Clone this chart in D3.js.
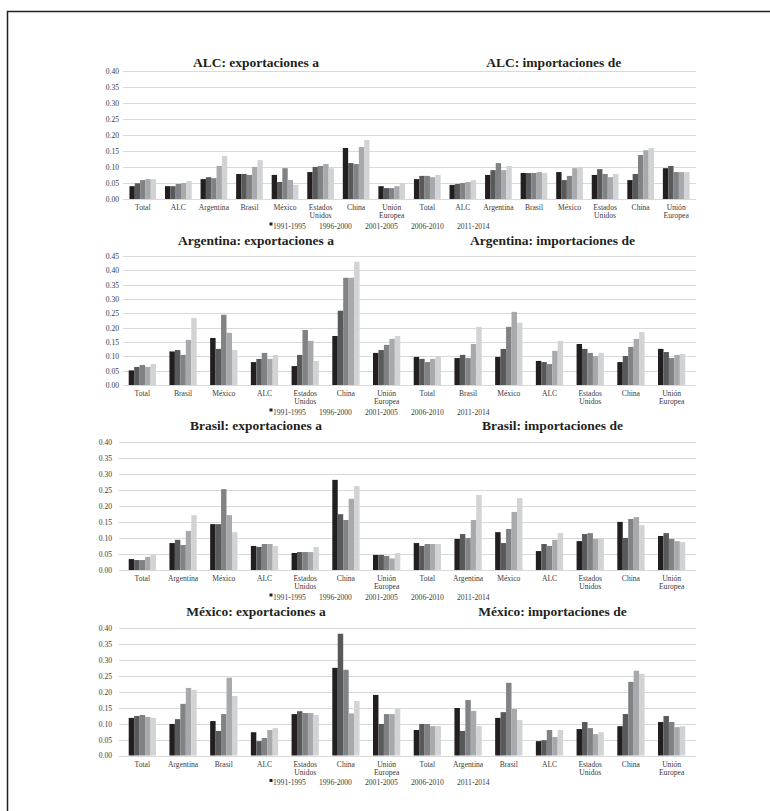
<!DOCTYPE html>
<html>
<head>
<meta charset="utf-8">
<script src="https://cdn.jsdelivr.net/npm/d3@7"></script>
<style>
  body { margin: 0; background: #fff; }
  text { font-family: "Liberation Serif", "Times New Roman", serif; }
</style>
</head>
<body>
<script>
// periods (series) and the destinations / origins of each panel
var periods = ["1991-1995", "1996-2000", "2001-2005", "2006-2010", "2011-2014"];
var colors  = ["#231f20", "#58595b", "#808285", "#a7a9ac", "#d1d3d4"];

var alcCats = ["Total", "ALC", "Argentina", "Brasil", "México", "Estados Unidos", "China", "Unión Europea"];
var argCats = ["Total", "Brasil", "México", "ALC", "Estados Unidos", "China", "Unión Europea"];
var braCats = ["Total", "Argentina", "México", "ALC", "Estados Unidos", "China", "Unión Europea"];
var mexCats = ["Total", "Argentina", "Brasil", "ALC", "Estados Unidos", "China", "Unión Europea"];

var ticks040 = [0, 0.05, 0.10, 0.15, 0.20, 0.25, 0.30, 0.35, 0.40];
var ticks045 = [0, 0.05, 0.10, 0.15, 0.20, 0.25, 0.30, 0.35, 0.40, 0.45];

// one row per category, one value per period
var alcExports = [
  [0.040, 0.049, 0.059, 0.062, 0.062],
  [0.040, 0.040, 0.047, 0.050, 0.056],
  [0.062, 0.068, 0.065, 0.103, 0.134],
  [0.078, 0.078, 0.075, 0.100, 0.121],
  [0.075, 0.053, 0.096, 0.059, 0.044],
  [0.084, 0.100, 0.103, 0.109, 0.096],
  [0.159, 0.112, 0.109, 0.162, 0.184],
  [0.040, 0.034, 0.034, 0.040, 0.050]
];
var alcImports = [
  [0.062, 0.072, 0.072, 0.068, 0.075],
  [0.044, 0.047, 0.050, 0.053, 0.059],
  [0.075, 0.090, 0.112, 0.090, 0.103],
  [0.081, 0.081, 0.081, 0.084, 0.081],
  [0.084, 0.059, 0.072, 0.096, 0.100],
  [0.075, 0.093, 0.078, 0.068, 0.078],
  [0.059, 0.078, 0.137, 0.152, 0.159],
  [0.096, 0.103, 0.084, 0.084, 0.084]
];
var argExports = [
  [0.051, 0.063, 0.070, 0.063, 0.073],
  [0.117, 0.122, 0.105, 0.157, 0.234],
  [0.164, 0.126, 0.245, 0.182, 0.122],
  [0.080, 0.091, 0.112, 0.091, 0.105],
  [0.066, 0.105, 0.192, 0.154, 0.084],
  [0.171, 0.259, 0.374, 0.374, 0.430],
  [0.112, 0.122, 0.140, 0.161, 0.171]
];
var argImports = [
  [0.098, 0.091, 0.080, 0.091, 0.101],
  [0.094, 0.105, 0.094, 0.143, 0.203],
  [0.098, 0.126, 0.203, 0.255, 0.217],
  [0.084, 0.080, 0.073, 0.119, 0.154],
  [0.143, 0.126, 0.112, 0.101, 0.112],
  [0.080, 0.101, 0.133, 0.161, 0.185],
  [0.126, 0.115, 0.094, 0.105, 0.108]
];
var braExports = [
  [0.034, 0.031, 0.031, 0.041, 0.047],
  [0.084, 0.094, 0.078, 0.122, 0.171],
  [0.143, 0.143, 0.252, 0.171, 0.118],
  [0.075, 0.072, 0.081, 0.081, 0.075],
  [0.053, 0.056, 0.056, 0.056, 0.072],
  [0.281, 0.174, 0.156, 0.222, 0.262],
  [0.047, 0.047, 0.044, 0.036, 0.053]
];
var braImports = [
  [0.084, 0.075, 0.081, 0.081, 0.081],
  [0.097, 0.112, 0.100, 0.156, 0.234],
  [0.118, 0.084, 0.128, 0.181, 0.224],
  [0.059, 0.081, 0.075, 0.094, 0.115],
  [0.090, 0.112, 0.115, 0.097, 0.100],
  [0.150, 0.100, 0.159, 0.165, 0.140],
  [0.106, 0.115, 0.097, 0.090, 0.087]
];
var mexExports = [
  [0.118, 0.124, 0.127, 0.121, 0.118],
  [0.099, 0.114, 0.162, 0.212, 0.206],
  [0.108, 0.077, 0.130, 0.244, 0.187],
  [0.073, 0.045, 0.055, 0.080, 0.086],
  [0.130, 0.139, 0.133, 0.133, 0.127],
  [0.275, 0.382, 0.269, 0.132, 0.171],
  [0.190, 0.099, 0.130, 0.130, 0.146]
];
var mexImports = [
  [0.080, 0.099, 0.099, 0.092, 0.092],
  [0.149, 0.077, 0.174, 0.140, 0.092],
  [0.118, 0.136, 0.228, 0.146, 0.111],
  [0.045, 0.048, 0.080, 0.058, 0.080],
  [0.083, 0.105, 0.086, 0.067, 0.073],
  [0.092, 0.130, 0.231, 0.266, 0.256],
  [0.105, 0.124, 0.105, 0.089, 0.092]
];

var width = 770, height = 811;

var svg = d3.select("body").append("svg")
    .attr("width", width)
    .attr("height", height);

// frame, runs off the right and bottom of the page like the scan
svg.append("rect")
    .attr("x", 7.5).attr("y", 11.5)
    .attr("width", 800).attr("height", 820)
    .attr("fill", "none")
    .attr("stroke", "#231f20")
    .attr("stroke-width", 1.5);

var panels = [
  {name: "ALC", cats: alcCats, exp: alcExports, imp: alcImports, ticks: ticks040,
   top: 70.7, base: 199, titleY: 62, gridX: 123, pad: 4, range: [125, 694], inner: 0.25},
  {name: "Argentina", cats: argCats, exp: argExports, imp: argImports, ticks: ticks045,
   top: 256, base: 385, titleY: 240, gridX: 123, pad: 4, range: [122, 692], inner: 0.33},
  {name: "Brasil", cats: braCats, exp: braExports, imp: braImports, ticks: ticks040,
   top: 441.7, base: 570, titleY: 425, gridX: 119, pad: 7, range: [122, 692], inner: 0.33},
  {name: "México", cats: mexCats, exp: mexExports, imp: mexImports, ticks: ticks040,
   top: 628, base: 755.5, titleY: 611, gridX: 119, pad: 7, range: [122, 692], inner: 0.33}
];

var draw_panel = function (p) {
    var g = svg.append("g").attr("class", "panel");
    var n = p.cats.length;
    // both halves share one band scale: exports first, then imports
    var rows = p.exp.map(function (v, i) { return {cat: p.cats[i], values: v, key: "e" + i}; })
        .concat(p.imp.map(function (v, i) { return {cat: p.cats[i], values: v, key: "i" + i}; }));

    var x0 = d3.scaleBand()
        .domain(rows.map(function (d) { return d.key; }))
        .range(p.range)
        .paddingInner(p.inner)
        .paddingOuter(p.inner / 2);
    var x1 = d3.scaleBand()
        .domain(d3.range(periods.length))
        .range([0, x0.bandwidth()]);
    var y = d3.scaleLinear()
        .domain([0, d3.max(p.ticks)])
        .range([p.base, p.top]);

    // gridlines
    g.append("g").selectAll("line")
        .data(p.ticks)
        .enter().append("line")
        .attr("x1", p.gridX).attr("x2", 696)
        .attr("y1", function (d) { return Math.round(y(d)) + 0.5; })
        .attr("y2", function (d) { return Math.round(y(d)) + 0.5; })
        .attr("stroke", "#d9d9d9")
        .attr("stroke-width", 1.2);

    // y axis labels
    var yAxis = d3.axisLeft(y).tickValues(p.ticks).tickFormat(d3.format(".2f")).tickSize(0).tickPadding(p.pad);
    var ax = g.append("g")
        .attr("transform", "translate(" + p.gridX + ",0)")
        .call(yAxis);
    ax.select(".domain").remove();
    ax.selectAll("text")
        .attr("fill", "#3a3a3a")
        .style("font-size", "7.6px")
        .style("font-family", "'Liberation Serif', serif");

    // bars
    g.append("g").selectAll("g")
        .data(rows)
        .enter().append("g")
        .attr("transform", function (d) { return "translate(" + x0(d.key) + ",0)"; })
        .selectAll("rect")
        .data(function (d) { return d.values; })
        .enter().append("rect")
        .attr("x", function (d, i) { return x1(i); })
        .attr("width", x1.bandwidth())
        .attr("y", function (d) { return y(d); })
        .attr("height", function (d) { return p.base - y(d); })
        .attr("fill", function (d, i) { return colors[i]; });

    // category labels, split onto two lines
    var labels = g.append("g").selectAll("text")
        .data(rows)
        .enter().append("text")
        .attr("x", function (d) { return x0(d.key) + x0.bandwidth() / 2; })
        .attr("y", p.base + 11)
        .attr("text-anchor", "middle")
        .attr("fill", "#3a3a3a")
        .style("font-size", "7.6px");
    labels.selectAll("tspan")
        .data(function (d) { return d.cat.split(" "); })
        .enter().append("tspan")
        .attr("x", function () { return d3.select(this.parentNode).attr("x"); })
        .attr("dy", function (d, i) { return i === 0 ? 0 : 8; })
        .text(function (d) { return d; });

    // titles over each half
    var mid = x0(rows[n].key) - x0.step() * p.inner / 2;
    g.append("text")
        .attr("x", 256).attr("y", p.titleY + 5)
        .attr("text-anchor", "middle")
        .attr("font-weight", "bold")
        .attr("fill", "#231f20")
        .style("font-size", "13.5px")
        .text(p.name + ": exportaciones a");
    g.append("text")
        .attr("x", (mid + 696) / 2 + 1).attr("y", p.titleY + 5)
        .attr("text-anchor", "middle")
        .attr("font-weight", "bold")
        .attr("fill", "#231f20")
        .style("font-size", "13.5px")
        .text(p.name + ": importaciones de");

    // legend, only the first key square shows in the original
    var ly = p.base + 29.5;
    var leg = g.append("g").selectAll("g")
        .data(periods)
        .enter().append("g")
        .attr("transform", function (d, i) { return "translate(" + (273 + i * 46) + "," + ly + ")"; });
    leg.filter(function (d, i) { return i === 0; })
        .append("rect")
        .attr("x", -3.5).attr("y", -6)
        .attr("width", 3).attr("height", 3)
        .attr("fill", colors[0]);
    leg.append("text")
        .attr("x", 0).attr("y", 0)
        .attr("fill", "#3a3a3a")
        .style("font-size", "7.6px")
        .text(function (d) { return d; });
};

panels.forEach(draw_panel);
</script>
</body>
</html>
